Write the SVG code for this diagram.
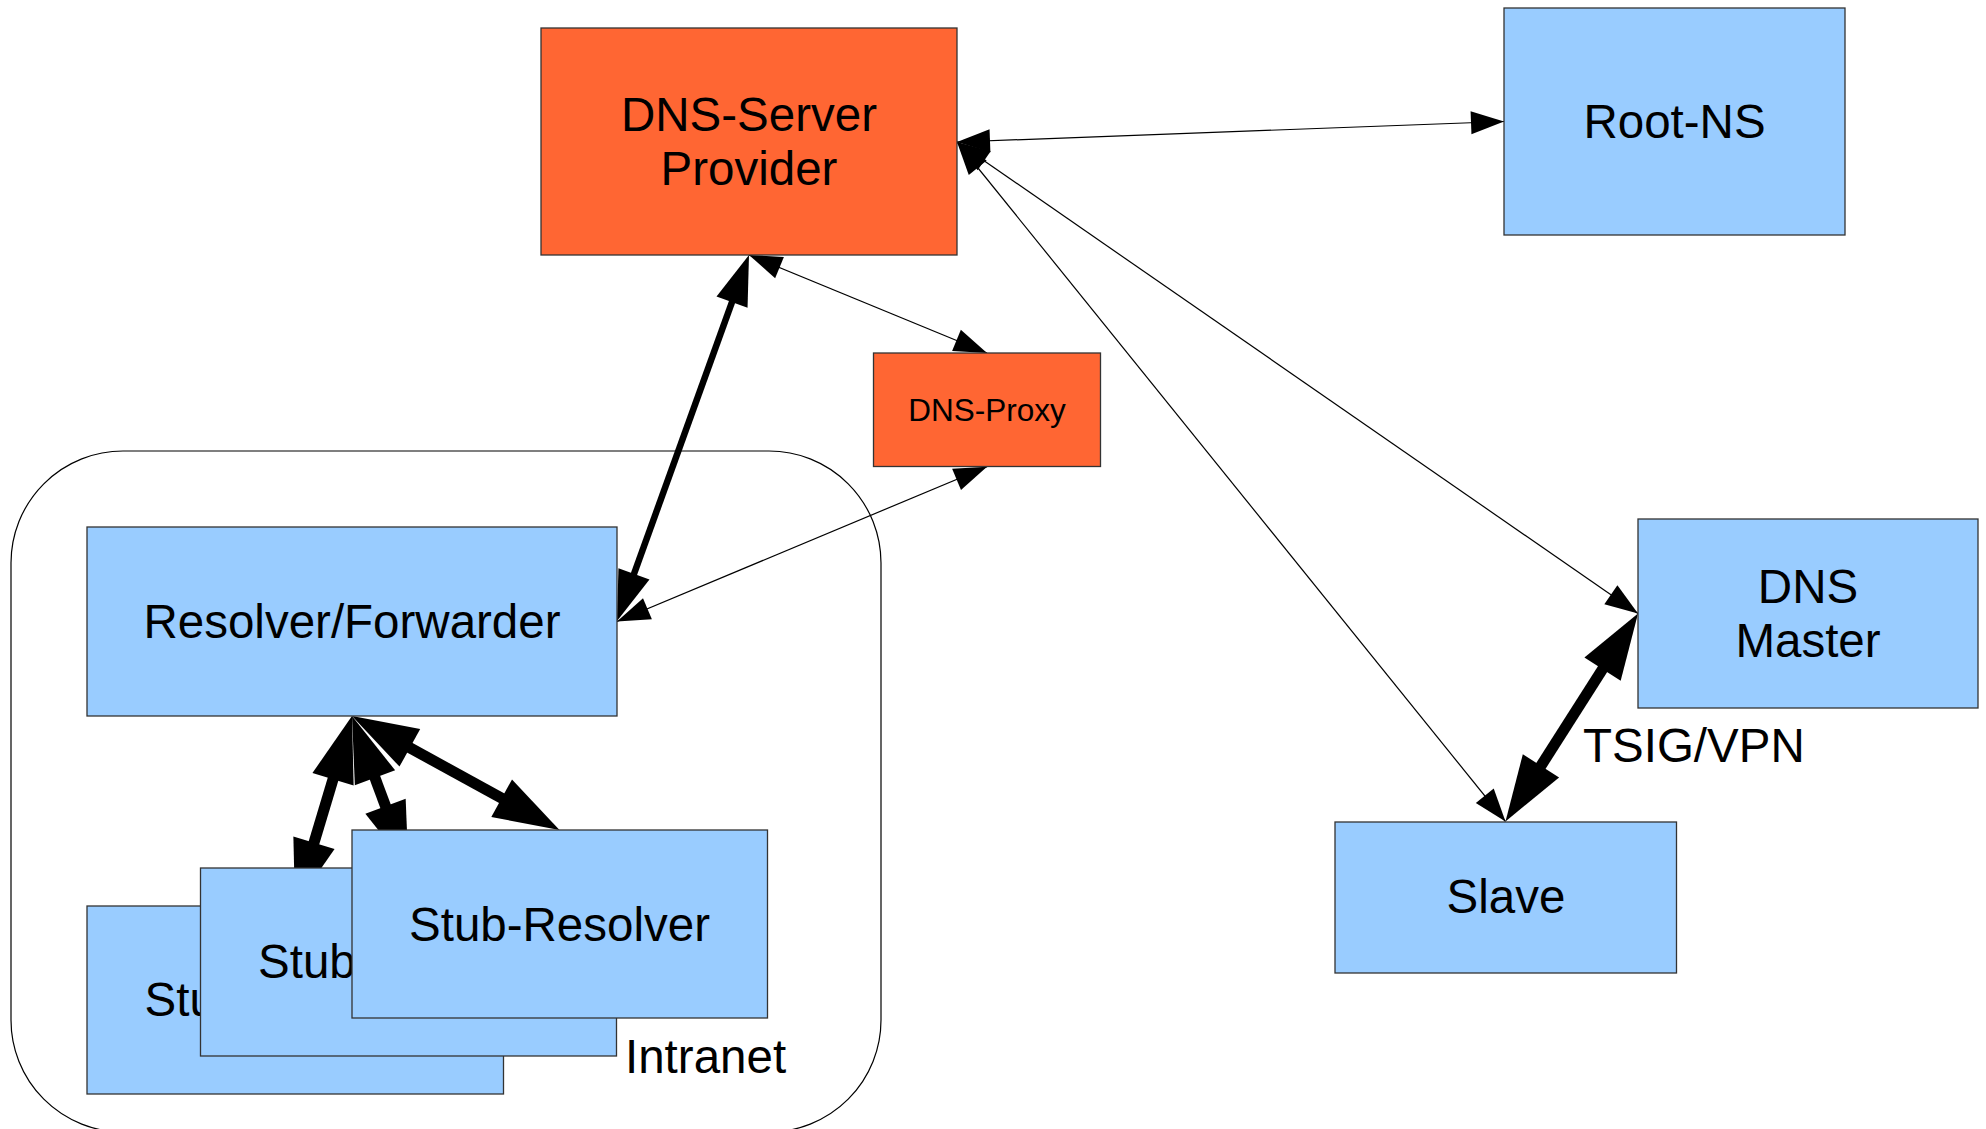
<svg xmlns="http://www.w3.org/2000/svg" width="1986" height="1129" viewBox="0 0 1986 1129">
  <style>
    .box { stroke: #333; stroke-width: 1.3; }
    .orange { fill: #ff6633; }
    .blue { fill: #99ccff; }
    .lbl { font-family: "Liberation Sans", Arial, sans-serif; font-size: 47.5px; fill: #000; }
    .mid { text-anchor: middle; }
    .thin { stroke: #000; stroke-width: 1.2; fill: none; marker-start: url(#headThin); marker-end: url(#headThin); }
    .medium { stroke: #000; stroke-width: 6.5; fill: none; marker-start: url(#headMid); marker-end: url(#headMid); }
    .heavy { stroke: #000; stroke-width: 11; fill: none; marker-start: url(#headThick); marker-end: url(#headThick); }
  </style>
  <defs>
    <marker id="headThin" markerUnits="userSpaceOnUse" orient="auto-start-reverse" refX="33" refY="0" markerWidth="40" markerHeight="30" viewBox="0 -15 40 30" overflow="visible">
      <path d="M0,-11.5 L33,0 L0,11.5 z" fill="#000"/>
    </marker>
    <marker id="headMid" markerUnits="userSpaceOnUse" orient="auto-start-reverse" refX="36" refY="0" markerWidth="60" markerHeight="40" viewBox="0 -20 60 40" overflow="visible">
      <path d="M0,-16.5 L50,0 L0,16.5 z" fill="#000"/>
    </marker>
    <marker id="headThick" markerUnits="userSpaceOnUse" orient="auto-start-reverse" refX="46" refY="0" markerWidth="70" markerHeight="50" viewBox="0 -25 70 50" overflow="visible">
      <path d="M0,-21.5 L66,0 L0,21.5 z" fill="#000"/>
    </marker>
  </defs>

  <rect width="1986" height="1129" fill="#fff"/>

  <!-- Intranet boundary -->
  <g id="intranet">
    <rect x="11" y="451" width="870" height="681" rx="112" ry="112" fill="none" stroke="#000" stroke-width="1.2"/>
    <text class="lbl" x="625" y="1073">Intranet</text>
  </g>

  <!-- Connectors -->
  <g id="connectors">
    <line class="thin" x1="957" y1="142" x2="1504" y2="121.5"/>
    <line class="thin" x1="957" y1="142" x2="1638" y2="613.5"/>
    <line class="thin" x1="957" y1="142" x2="1505.5" y2="821.5"/>
    <line class="thin" x1="749" y1="255" x2="987" y2="353"/>
    <line class="thin" x1="617" y1="621.5" x2="987" y2="466.7"/>
    <line class="medium" x1="744.25" y1="268.17" x2="621.75" y2="607.83"/>
    <line class="heavy" x1="346.25" y1="735.15" x2="300.75" y2="886.85"/>
    <line class="heavy" x1="358.97" y1="734.74" x2="401.53" y2="849.26"/>
    <line class="heavy" x1="369.53" y1="725.63" x2="541.97" y2="820.37"/>
    <line class="heavy" x1="1627.27" y1="630.38" x2="1516.23" y2="804.62"/>
    <text class="lbl" x="1583" y="762">TSIG/VPN</text>
  </g>

  <!-- Nodes -->
  <g id="provider">
    <rect class="box orange" x="541" y="28" width="416" height="227"/>
    <text class="lbl mid" x="749" y="131">DNS-Server</text>
    <text class="lbl mid" x="749" y="185">Provider</text>
  </g>
  <g id="root-ns">
    <rect class="box blue" x="1504" y="8" width="341" height="227"/>
    <text class="lbl mid" x="1674.5" y="138">Root-NS</text>
  </g>
  <g id="dns-proxy">
    <rect class="box orange" x="873.5" y="353" width="227" height="113.5"/>
    <text class="lbl mid" x="987" y="421" style="font-size:31.5px">DNS-Proxy</text>
  </g>
  <g id="dns-master">
    <rect class="box blue" x="1638" y="519" width="340" height="189"/>
    <text class="lbl mid" x="1808" y="603">DNS</text>
    <text class="lbl mid" x="1808" y="657">Master</text>
  </g>
  <g id="slave">
    <rect class="box blue" x="1335" y="822" width="341.5" height="151"/>
    <text class="lbl mid" x="1506" y="913">Slave</text>
  </g>
  <g id="resolver">
    <rect class="box blue" x="87" y="527" width="530" height="189"/>
    <text class="lbl mid" x="352" y="638">Resolver/Forwarder</text>
  </g>
  <g id="stub-1">
    <rect class="box blue" x="87" y="906" width="416.5" height="188"/>
    <text class="lbl mid" x="295" y="1016">Stub-Resolver</text>
  </g>
  <g id="stub-2">
    <rect class="box blue" x="200.5" y="868" width="416" height="188"/>
    <text class="lbl mid" x="408.5" y="978">Stub-Resolver</text>
  </g>
  <g id="stub-3">
    <rect class="box blue" x="352" y="830" width="415.5" height="188"/>
    <text class="lbl mid" x="559.5" y="941">Stub-Resolver</text>
  </g>
</svg>
